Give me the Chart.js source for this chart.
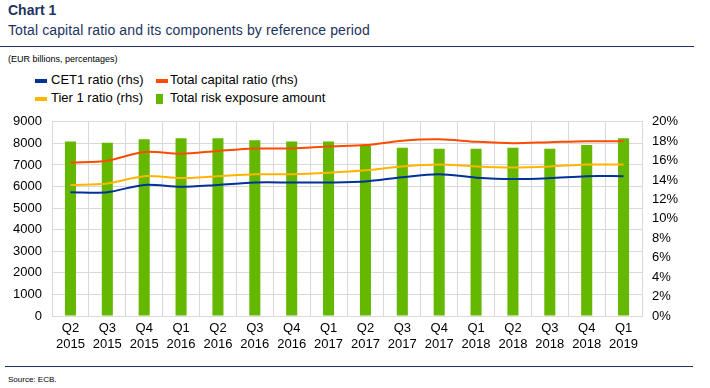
<!DOCTYPE html>
<html>
<head>
<meta charset="utf-8">
<script src="https://cdn.jsdelivr.net/npm/chart.js@4"></script>
<style>
  body { margin: 0; background: #fff; font-family: "Liberation Sans", Arial, sans-serif; }
  .abs { position: absolute; white-space: nowrap; }
  #title { left: 8px; top: 2px; font-size: 14px; font-weight: bold; color: #1c3360; }
  #subtitle { left: 8px; top: 22px; font-size: 14px; color: #1c3360; letter-spacing: 0.12px; }
  #rule1 { left: 0; top: 46px; width: 694px; height: 1px; background: #1c3360; }
  #units { left: 8px; top: 54px; font-size: 9px; color: #000; }
  .leg { font-size: 13px; color: #000; }
  .mk { position: absolute; }
  #rule2 { left: 5px; top: 366px; width: 688px; height: 1px; background: #1c3360; }
  #source { left: 8px; top: 375px; font-size: 8px; color: #000; }
  #wrap { position: absolute; left: 0; top: 104px; }
</style>
</head>
<body>
<div class="abs" id="title">Chart 1</div>
<div class="abs" id="subtitle">Total capital ratio and its components by reference period</div>
<div class="abs" id="rule1"></div>
<div class="abs" id="units">(EUR billions, percentages)</div>

<div class="mk" style="left:35px;top:79px;width:12px;height:4px;background:#003299"></div>
<div class="abs leg" style="left:51px;top:72px">CET1 ratio (rhs)</div>
<div class="mk" style="left:156px;top:79px;width:12px;height:4px;background:#ff4b00"></div>
<div class="abs leg" style="left:170px;top:72px">Total capital ratio (rhs)</div>
<div class="mk" style="left:35px;top:97px;width:12px;height:4px;background:#ffb400"></div>
<div class="abs leg" style="left:51px;top:90px">Tier 1 ratio (rhs)</div>
<div class="mk" style="left:156px;top:94px;width:7px;height:10px;background:#65b800"></div>
<div class="abs leg" style="left:170px;top:90px">Total risk exposure amount</div>

<div id="wrap"><canvas id="c" width="710" height="252"></canvas></div>

<div class="abs" id="rule2"></div>
<div class="abs" id="source">Source: ECB.</div>

<script>
var quarters = ['Q2','Q3','Q4','Q1','Q2','Q3','Q4','Q1','Q2','Q3','Q4','Q1','Q2','Q3','Q4','Q1'];
var years = ['2015','2015','2015','2016','2016','2016','2016','2017','2017','2017','2017','2018','2018','2018','2018','2019'];
var riskExposure = [8090, 8030, 8190, 8240, 8240, 8140, 8090, 8090, 7890, 7800, 7750, 7750, 7800, 7750, 7930, 8240];
var totalCapital = [15.8, 16.0, 16.9, 16.7, 17.0, 17.25, 17.25, 17.45, 17.6, 18.05, 18.2, 17.95, 17.8, 17.9, 18.0, 18.0];
var tier1 = [13.5, 13.65, 14.4, 14.2, 14.4, 14.6, 14.6, 14.75, 15.0, 15.4, 15.6, 15.4, 15.3, 15.4, 15.6, 15.6];
var cet1 = [12.75, 12.75, 13.5, 13.3, 13.5, 13.75, 13.75, 13.75, 13.85, 14.3, 14.6, 14.25, 14.1, 14.2, 14.4, 14.4];

var labels = [];
for (var i = 0; i < quarters.length; i++) {
    labels.push([quarters[i], years[i]]);
}

var tickFont = { family: '"Liberation Sans", Arial, sans-serif', size: 13 };
var gridColor = '#d9d9d9';

function lineSet(label, data, color) {
    return {
        type: 'line', label: label, data: data, yAxisID: 'y1',
        borderColor: color, backgroundColor: color, borderWidth: 2,
        pointRadius: 0, tension: 0.3, fill: false, order: 1
    };
}

new Chart(document.getElementById('c').getContext('2d'), {
    type: 'bar',
    data: {
        labels: labels,
        datasets: [
            lineSet('CET1 ratio (rhs)', cet1, '#003299'),
            lineSet('Total capital ratio (rhs)', totalCapital, '#ff4b00'),
            lineSet('Tier 1 ratio (rhs)', tier1, '#ffb400'),
            {
                label: 'Total risk exposure amount', data: riskExposure, yAxisID: 'y',
                backgroundColor: '#65b800', categoryPercentage: 1, barPercentage: 0.3, order: 5
            }
        ]
    },
    options: {
        responsive: false,
        animation: false,
        layout: { padding: { top: 10, left: 0, right: 0, bottom: 0 } },
        plugins: { legend: { display: false }, tooltip: { enabled: false } },
        scales: {
            x: {
                grid: { color: gridColor, drawTicks: false, offset: true },
                border: { color: gridColor },
                ticks: { font: tickFont, color: '#000', padding: 5, maxRotation: 0, autoSkip: false },
                afterFit: function(s) { s.height = 40; }
            },
            y: {
                position: 'left', min: 0, max: 9000,
                grid: { color: gridColor, drawTicks: false },
                border: { color: gridColor },
                ticks: { stepSize: 1000, font: tickFont, color: '#000', padding: 10, callback: function(v) { return String(v); } },
                afterFit: function(s) { s.width = 52; }
            },
            y1: {
                position: 'right', min: 0, max: 20,
                grid: { display: false, drawTicks: false },
                border: { color: gridColor },
                ticks: { stepSize: 2, font: tickFont, color: '#000', padding: 10, callback: function(v) { return v + '%'; } },
                afterFit: function(s) { s.width = 68; }
            }
        }
    }
});
</script>
</body>
</html>
